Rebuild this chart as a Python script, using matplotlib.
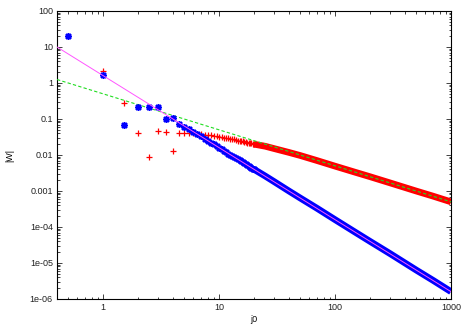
import matplotlib
matplotlib.use("Agg")
import matplotlib.pyplot as plt
from matplotlib.ticker import LogLocator, FixedLocator, NullFormatter

# ---- data ----
# individually visible points (step 0.5)
j0_pts = [0.5, 1, 1.5, 2, 2.5, 3, 3.5, 4, 4.5, 5, 5.5,
          6, 6.5, 7, 7.5, 8, 8.5, 9, 9.5, 10, 10.5, 11, 11.5, 12, 12.5,
          13, 13.5, 14, 14.5, 15, 15.5, 16, 16.5, 17, 17.5, 18, 18.5,
          19, 19.5, 20]
w_red_pts = [20, 2.2, 0.27, 0.040, 0.0086, 0.047, 0.044, 0.013, 0.042, 0.040, 0.040,
             0.040, 0.039, 0.038, 0.037, 0.036, 0.035, 0.034, 0.033, 0.032, 0.031,
             0.030, 0.030, 0.029, 0.028, 0.027, 0.027, 0.026, 0.025, 0.025, 0.024,
             0.024, 0.023, 0.023, 0.022, 0.022, 0.021, 0.021, 0.0205, 0.020]
w_blue_pts = [20, 1.67, 0.068, 0.21, 0.21, 0.21, 0.10, 0.11, 0.073, 0.061, 0.053,
              0.044, 0.038, 0.033, 0.028, 0.025, 0.022, 0.020, 0.018, 0.016, 0.0145,
              0.013, 0.012, 0.011, 0.010, 0.0095, 0.0088, 0.0082, 0.0076, 0.0071, 0.0067,
              0.0062, 0.0059, 0.0055, 0.0052, 0.0049, 0.0047, 0.0044, 0.0042, 0.0040]

# dense tail (markers merge into a band)
j0_tail = [20, 25, 30, 40, 50, 70, 100, 150, 200, 300, 500, 700, 1000]
w_red_tail = [0.020, 0.0175, 0.015, 0.0118, 0.0097, 0.0070, 0.0049, 0.0033,
              0.0025, 0.00167, 0.0010, 0.00072, 0.0005]
w_blue_tail = [0.0040, 0.0026, 0.0018, 0.0010, 0.00064, 0.00033, 0.00016,
               7.1e-5, 4.0e-5, 1.8e-5, 6.4e-6, 3.3e-6, 1.6e-6]

# fitted power-law lines (end points)
fit_x = [0.4, 1000]
fit_green = [1.25, 0.0005]
fit_magenta = [10.0, 1.6e-6]

y_ticks = [100, 10, 1, 0.1, 0.01, 0.001, 1e-4, 1e-5, 1e-6]
y_ticklabels = ["100", "10", "1", "0.1", "0.01", "0.001", "1e-04", "1e-05", "1e-06"]
x_ticks = [1, 10, 100, 1000]
x_ticklabels = ["1", "10", "100", "1000"]

plt.rcParams['font.family'] = ['Liberation Sans', 'DejaVu Sans']

fig = plt.figure(figsize=(4.67, 3.27), dpi=100)
ax = fig.add_axes([57/467, 1-299/327, (451-57)/467, (299-11)/327])

RED = "#ff0000"
BLUE = "#0000ff"
band_lw = 4.8

ax.plot(j0_tail, w_red_tail, color=RED, lw=band_lw, solid_capstyle='butt', zorder=2)
ax.plot(j0_pts, w_red_pts, ls='none', marker='+', ms=5, mew=0.9, color=RED, zorder=2)
ax.plot(fit_x, fit_green, color="#22dd22", lw=0.8, dashes=(3, 2), zorder=3)
ax.plot(j0_tail, w_blue_tail, color=BLUE, lw=band_lw, solid_capstyle='butt', zorder=4)
ax.plot(j0_pts, w_blue_pts, ls='none', marker=(8, 2, 0), ms=5.0, mew=1.1, color=BLUE, zorder=4)
ax.plot(fit_x, fit_magenta, color="#ff55ff", lw=0.7, zorder=5)

ax.set_xscale('log')
ax.set_yscale('log')
ax.set_xlim(0.4, 1000)
ax.set_ylim(1e-6, 100)

ax.xaxis.set_major_locator(FixedLocator(x_ticks))
ax.set_xticklabels(x_ticklabels)
ax.yaxis.set_major_locator(FixedLocator(y_ticks))
ax.set_yticklabels(y_ticklabels)
ax.xaxis.set_minor_locator(LogLocator(base=10, subs=range(2, 10), numticks=20))
ax.yaxis.set_minor_locator(LogLocator(base=10, subs=range(2, 10), numticks=20))
ax.xaxis.set_minor_formatter(NullFormatter())
ax.yaxis.set_minor_formatter(NullFormatter())

ax.tick_params(which='both', direction='in', top=True, right=True,
               labelsize=6.5, colors='#222222', width=0.6)
ax.tick_params(which='major', length=3.5, pad=3)
ax.tick_params(which='minor', length=1.8)
for s in ax.spines.values():
    s.set_linewidth(0.8)
    s.set_color('black')

ax.set_xlabel("j0", fontsize=6.5, labelpad=2)
ax.set_ylabel("|W|", fontsize=6.5, labelpad=11)

fig.savefig("out.png", dpi=100)
